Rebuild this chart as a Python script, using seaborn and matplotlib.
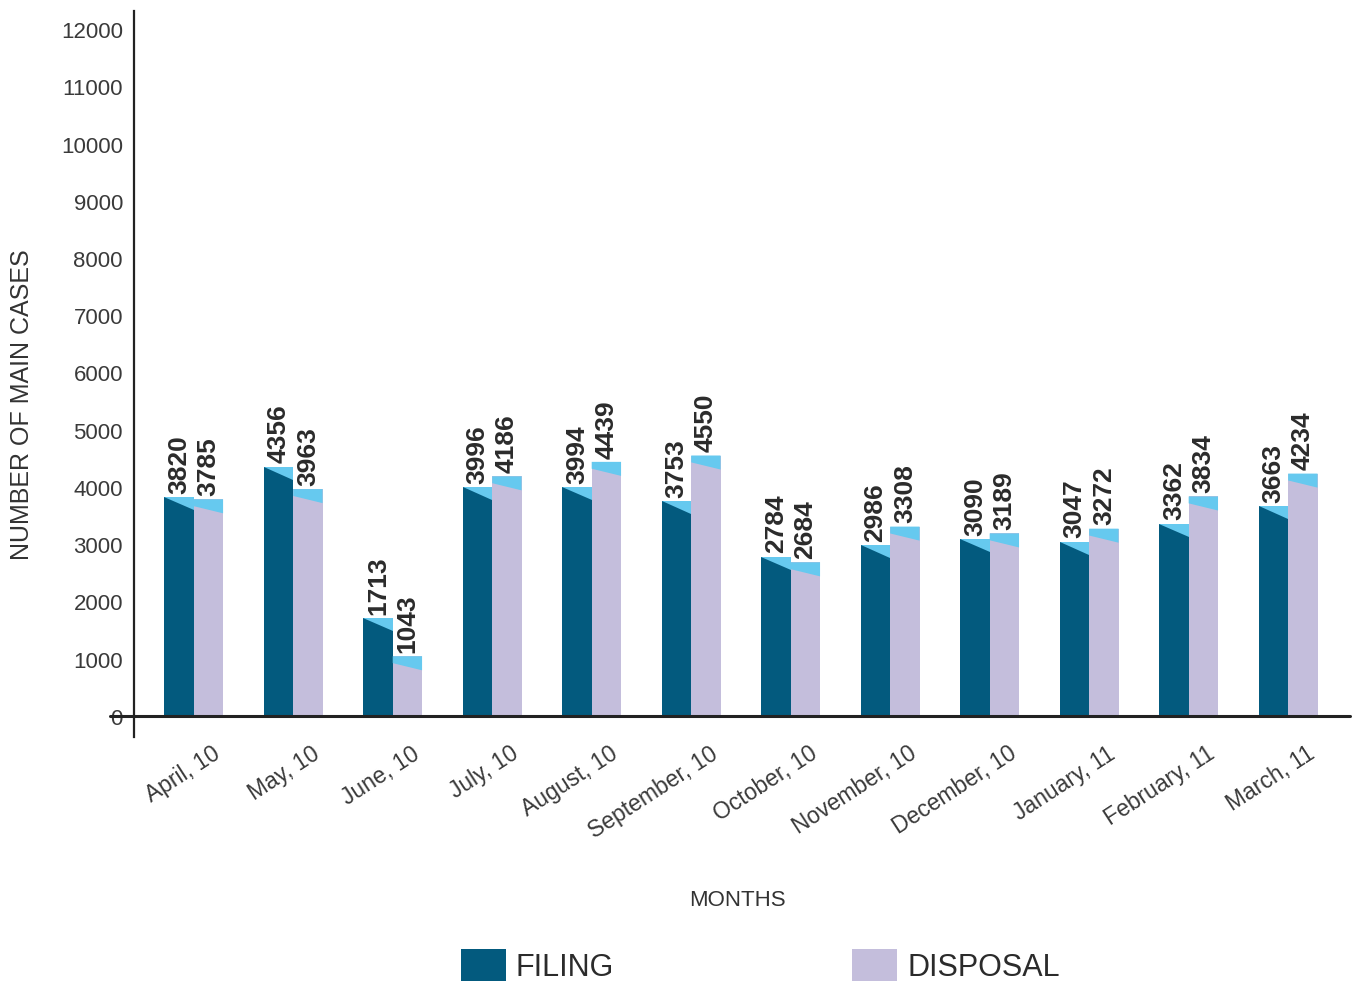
import pandas as pd
import matplotlib.pyplot as plt
import matplotlib.transforms as mtransforms
from matplotlib.patches import Polygon
import seaborn as sns

# monthly main cases, filing vs disposal
months = ["April, 10", "May, 10", "June, 10", "July, 10", "August, 10", "September, 10",
          "October, 10", "November, 10", "December, 10", "January, 11", "February, 11", "March, 11"]
filing = [3820, 4356, 1713, 3996, 3994, 3753, 2784, 2986, 3090, 3047, 3362, 3663]
disposal = [3785, 3963, 1043, 4186, 4439, 4550, 2684, 3308, 3189, 3272, 3834, 4234]
series = ["FILING", "DISPOSAL"]
yticks = list(range(0, 12001, 1000))

df = pd.DataFrame({
    "Month": months * 2,
    "Type": [series[0]] * len(months) + [series[1]] * len(months),
    "Cases": filing + disposal,
})

sns.set_style("white")
plt.rcParams["font.family"] = ["Liberation Sans", "DejaVu Sans"]

palette = {"FILING": "#035a7e", "DISPOSAL": "#c4bedc"}
top_col = "#66c9ef"

fig = plt.figure(figsize=(13.58, 9.87), dpi=100)
ax = fig.add_axes([0.0987, 0.2523, 0.8953, 0.7355])

sns.barplot(data=df, x="Month", y="Cases", hue="Type", order=months, hue_order=series,
            palette=palette, width=0.59, saturation=1, linewidth=0, ax=ax)

ax.set_xlim(-0.6, 11.62)
ax.set_ylim(-367, 12314)

# light blue slanted tops to fake the 3d look
for i, cont in enumerate(ax.containers):
    for p in cont.patches:
        x0, w, h = p.get_x(), p.get_width(), p.get_height()
        if i == 0:
            pts = [(x0, h), (x0 + w, h), (x0 + w, h - 230)]
        else:
            pts = [(x0, h), (x0 + w, h), (x0 + w, h - 245), (x0, h - 120)]
        ax.add_patch(Polygon(pts, closed=True, facecolor=top_col, edgecolor="none", zorder=3))
    ax.bar_label(cont, labels=[str(int(v)) for v in cont.datavalues], rotation=90,
                 padding=3, fontsize=19, fontweight="bold", color="#2b2b2b")

# axes styling
for s in ["top", "right", "bottom"]:
    ax.spines[s].set_visible(False)
ax.spines["left"].set_linewidth(1.6)
ax.spines["left"].set_color("#222222")
ax.axhline(0, xmin=-0.02, xmax=1, color="#222222", linewidth=2.2, clip_on=False, zorder=4)

ax.set_yticks(yticks)
ax.set_yticklabels([str(v) for v in yticks])
ax.tick_params(axis="y", direction="inout", length=12, width=1.3, color="#333333",
               labelsize=16, labelcolor="#3a3a3a", pad=2)
ax.tick_params(axis="x", length=0, labelsize=16.5, labelcolor="#3a3a3a", pad=3)
plt.setp(ax.get_xticklabels(), rotation=33, ha="right", rotation_mode="anchor")
offset = mtransforms.ScaledTranslation(18 / 100, 0, fig.dpi_scale_trans)
for lbl in ax.get_xticklabels():
    lbl.set_transform(lbl.get_transform() + offset)

ax.set_xlabel("")
ax.set_ylabel("")
fig.text(0.016, 0.59, "NUMBER OF MAIN CASES", rotation=90, ha="center", va="center",
         fontsize=18, color="#333333")
fig.text(0.543, 0.088, "MONTHS", ha="center", va="center", fontsize=16, color="#333333")

handles, labels = ax.get_legend_handles_labels()
ax.get_legend().remove()
fig.legend(handles, labels, loc="center", bbox_to_anchor=(0.56, 0.021), ncol=2,
           frameon=False, fontsize=22, handlelength=1.47, handleheight=1.25,
           handletextpad=0.33, columnspacing=7.8, borderpad=0, labelcolor="#2b2b2b")

plt.savefig("out.png", dpi=100)
plt.close()
